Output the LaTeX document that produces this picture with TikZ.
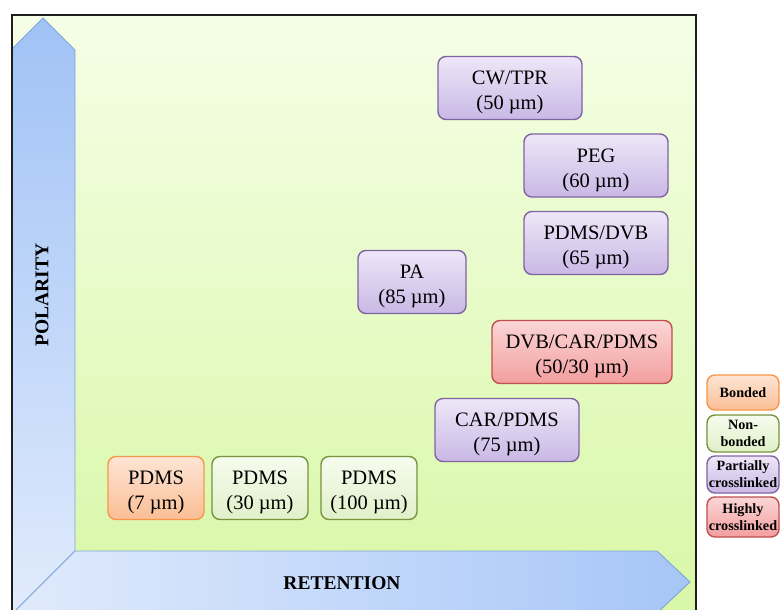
\documentclass[tikz,border=0pt]{standalone}
\usepackage{fontspec}
\setmainfont{Liberation Serif}
\newcommand\mytopstrut{\rule{0pt}{23pt}}
\begin{document}
\begin{tikzpicture}[x=1pt,y=1pt,
  box/.style={rounded corners=8pt, line width=1.4pt, align=center, inner sep=2pt,
    font=\fontsize{20.5}{25}\selectfont},
  purplebox/.style={box, draw={rgb,255:red,128;green,100;blue,162},
    top color={rgb,255:red,238;green,231;blue,248}, bottom color={rgb,255:red,201;green,184;blue,229}},
  redbox/.style={box, draw={rgb,255:red,192;green,80;blue,77},
    top color={rgb,255:red,251;green,214;blue,214}, bottom color={rgb,255:red,243;green,158;blue,158}},
  orangebox/.style={box, draw={rgb,255:red,247;green,150;blue,70},
    top color={rgb,255:red,253;green,229;blue,212}, bottom color={rgb,255:red,251;green,190;blue,150}},
  greenbox/.style={box, draw={rgb,255:red,119;green,147;blue,60},
    top color={rgb,255:red,246;green,252;blue,238}, bottom color={rgb,255:red,224;green,240;blue,201}},
  legend/.style={font=\fontsize{14.2}{17}\selectfont\bfseries, minimum width=72pt, inner sep=0pt},
  arrowshape/.style={draw={rgb,255:red,126;green,166;blue,216}, line width=0.9pt, line join=miter},
  axislabel/.style={font=\fontsize{19.5}{22}\selectfont\bfseries}
]
\useasboundingbox (0,0) rectangle (780,-610);
\clip (0,0) rectangle (780,-610);
\fill[white] (0,0) rectangle (780,-610);
% background
\shade[top color={rgb,255:red,245;green,254;blue,230}, bottom color={rgb,255:red,215;green,247;blue,165}]
  (12,-15) rectangle (696,-625);
% polarity arrow
\shade[arrowshape, top color={rgb,255:red,160;green,194;blue,246}, bottom color={rgb,255:red,225;green,235;blue,252}]
  (12,-49) -- (43,-18) -- (75,-50) -- (75,-551) -- (13,-613) -- (12,-613) -- cycle;
% retention arrow
\shade[arrowshape, left color={rgb,255:red,224;green,234;blue,252}, right color={rgb,255:red,166;green,198;blue,247}]
  (75,-551) -- (657,-551) -- (690,-582) -- (657,-613) -- (13,-613) -- cycle;
\node[axislabel, rotate=90] (pol) at (42,-295) {POLARITY};
\node[axislabel] (ret) at (342,-583) {RETENTION};
% frame
\draw[line width=2pt, draw={rgb,255:red,30;green,30;blue,30}] (12,-640) -- (12,-15) -- (696,-15) -- (696,-640);
% boxes
\node[purplebox, minimum width=144pt, minimum height=63pt] (cw) at (510,-88) {\mytopstrut CW/TPR\\(50 µm)};
\node[purplebox, minimum width=144pt, minimum height=63pt] (peg) at (596,-165.5) {\mytopstrut PEG\\(60 µm)};
\node[purplebox, minimum width=144pt, minimum height=63pt] (dvb) at (596,-243) {\mytopstrut PDMS/DVB\\(65 µm)};
\node[purplebox, minimum width=108pt, minimum height=63pt] (pa) at (412,-282) {\mytopstrut PA\\(85 µm)};
\node[redbox, minimum width=180pt, minimum height=63pt] (dcp) at (582,-352) {\mytopstrut DVB/CAR/PDMS\\(50/30 µm)};
\node[purplebox, minimum width=144pt, minimum height=63pt] (car) at (507,-430) {\mytopstrut CAR/PDMS\\(75 µm)};
\node[orangebox, minimum width=96pt, minimum height=63pt] (p7) at (156,-488) {\mytopstrut PDMS\\(7 µm)};
\node[greenbox, minimum width=96pt, minimum height=63pt] (p30) at (260,-488) {\mytopstrut PDMS\\(30 µm)};
\node[greenbox, minimum width=96pt, minimum height=63pt] (p100) at (369,-488) {\mytopstrut PDMS\\(100 µm)};
% legend
\node[orangebox, legend, minimum height=35pt] (lb) at (743,-392.5) {Bonded};
\node[greenbox, legend, minimum height=37pt] (ln) at (743,-433.5) {Non-\\bonded};
\node[purplebox, legend, minimum height=37pt] (lp) at (743,-474.5) {Partially\\crosslinked};
\node[redbox, legend, minimum height=40pt] (lh) at (743,-517) {Highly\\crosslinked};
\end{tikzpicture}
\end{document}
